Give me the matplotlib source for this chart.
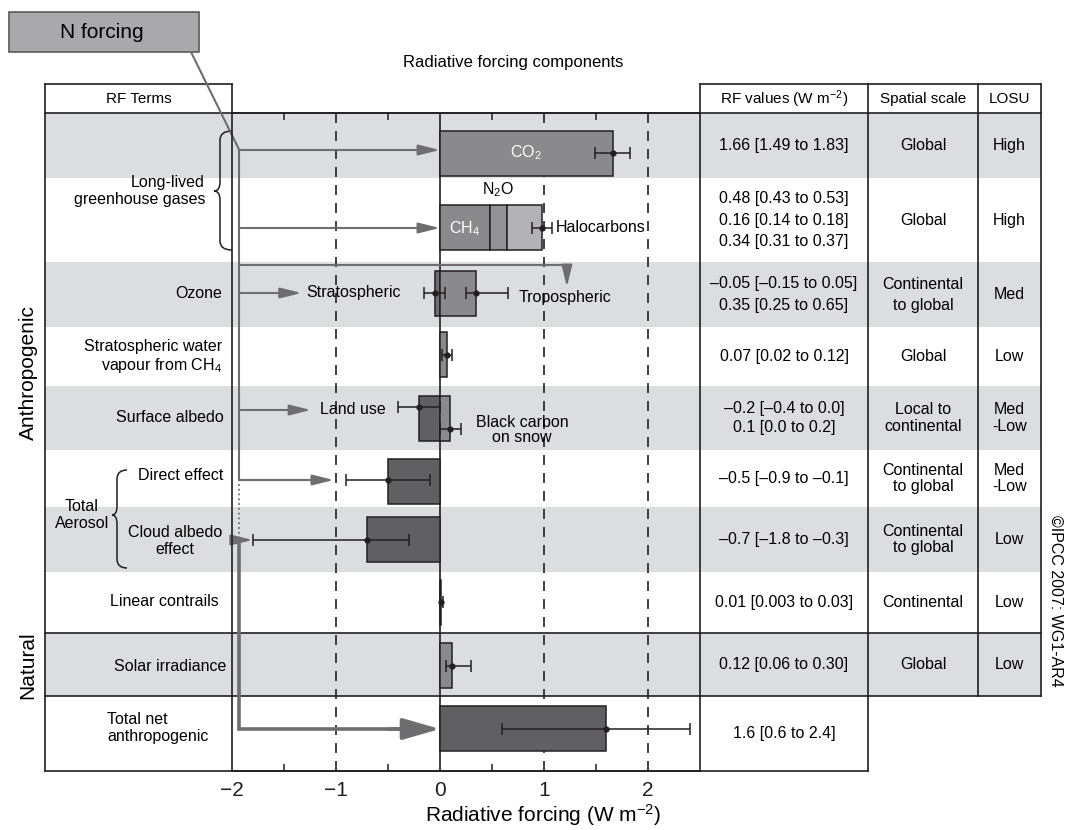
import matplotlib.pyplot as plt
from matplotlib.patches import Rectangle, ConnectionPatch, PathPatch
from matplotlib.path import Path

plt.rcParams['font.family'] = ['Liberation Sans', 'DejaVu Sans']
plt.rcParams['mathtext.fontset'] = 'custom'
plt.rcParams['mathtext.rm'] = 'Liberation Sans'
plt.rcParams['mathtext.it'] = 'Liberation Sans:italic'
plt.rcParams['mathtext.bf'] = 'Liberation Sans:bold'

# forcing components: best estimate and uncertainty range (W m-2)
co2 = 1.66
co2_rng = [1.49, 1.83]
ghg_vals = [0.48, 0.16, 0.34]          # CH4, N2O, halocarbons
ghg_low = [0.43, 0.14, 0.31]
ghg_high = [0.53, 0.18, 0.37]
ozone_vals = [-0.05, 0.35]             # stratospheric, tropospheric
ozone_low = [-0.15, 0.25]
ozone_high = [0.05, 0.65]
h2o_strat = 0.07
h2o_rng = [0.02, 0.12]
albedo_vals = [-0.2, 0.1]              # land use, black carbon on snow
albedo_low = [-0.4, 0.0]
albedo_high = [0.0, 0.2]
aer_direct = -0.5
aer_direct_rng = [-0.9, -0.1]
aer_cloud = -0.7
aer_cloud_rng = [-1.8, -0.3]
contrails = 0.01
contrails_rng = [0.003, 0.03]
solar = 0.12
solar_rng = [0.06, 0.30]
total_net = 1.6
total_rng = [0.6, 2.4]

rf_text = ["1.66 [1.49 to 1.83]",
           "0.48 [0.43 to 0.53]\n0.16 [0.14 to 0.18]\n0.34 [0.31 to 0.37]",
           "\u20130.05 [\u20130.15 to 0.05]\n0.35 [0.25 to 0.65]",
           "0.07 [0.02 to 0.12]",
           "\u20130.2 [\u20130.4 to 0.0]\n0.1 [0.0 to 0.2]",
           "\u20130.5 [\u20130.9 to \u20130.1]",
           "\u20130.7 [\u20131.8 to \u20130.3]",
           "0.01 [0.003 to 0.03]",
           "0.12 [0.06 to 0.30]",
           "1.6 [0.6 to 2.4]"]
spatial = ["Global", "Global", "Continental\nto global", "Global",
           "Local to\ncontinental", "Continental\nto global",
           "Continental\nto global", "Continental", "Global", ""]
losu = ["High", "High", "Med", "Low", "Med\n-Low", "Med\n-Low",
        "Low", "Low", "Low", ""]

# page layout in pixels (y grows downward)
W, H = 1068, 830
LEFT, PLOT_L, PLOT_R, RIGHT = 45, 232, 700, 1041
COL1, COL2 = 868, 978
HEAD, TOP, BOTTOM = 84, 113, 771
row_edges = [113, 178, 262, 327, 386, 450, 507, 572, 633, 696, 771]
shaded = [0, 2, 4, 6, 8]
bar_y = [153.5, 227.5, 294, 355, 419, 481.5, 539.5, 602.5, 665.5, 728.5]
BAR_H = 45

DARK = '#606062'
MID = '#8a8a8c'
N2O_C = '#939395'
LIGHT = '#b3b3b5'
STRAT_C = '#707072'
SHADE = '#dcdddf'
ARROW = '#6e6e70'
INK = '#231f20'

fig = plt.figure(figsize=(W / 100, H / 100), dpi=100)
bg = fig.add_axes([0, 0, 1, 1], zorder=0)
bg.set_xlim(0, W)
bg.set_ylim(H, 0)
bg.axis('off')

ax = fig.add_axes([PLOT_L / W, (H - BOTTOM) / H, (PLOT_R - PLOT_L) / W,
                   (BOTTOM - TOP) / H], zorder=1)
ax.patch.set_visible(False)
ax.set_xlim(-2, 2.5)
ax.set_ylim(BOTTOM, TOP)

# shaded rows
for i in shaded:
    bg.add_patch(Rectangle((LEFT, row_edges[i]), RIGHT - LEFT,
                           row_edges[i + 1] - row_edges[i],
                           fc=SHADE, ec='none', zorder=0))


def hline(y, x0, x1):
    bg.plot([x0, x1], [y, y], color=INK, lw=1.2, solid_capstyle='projecting')


def vline(x, y0, y1):
    bg.plot([x, x], [y0, y1], color=INK, lw=1.2, solid_capstyle='projecting')


# table frame
hline(HEAD, LEFT, PLOT_L)
hline(HEAD, PLOT_R, RIGHT)
hline(TOP, LEFT, RIGHT)
hline(row_edges[8], LEFT, RIGHT)
hline(row_edges[9], LEFT, RIGHT)
hline(BOTTOM, LEFT, COL1)
vline(LEFT, HEAD, BOTTOM)
vline(PLOT_L, HEAD, TOP)
vline(PLOT_R, HEAD, TOP)
vline(COL1, HEAD, BOTTOM)
vline(COL2, HEAD, row_edges[9])
vline(RIGHT, HEAD, row_edges[9])

fs = 11.5
bg.text((LEFT + PLOT_L) / 2, 99, "RF Terms", ha='center', va='center', fontsize=11)
bg.text((PLOT_R + COL1) / 2, 99, "RF values (W m$^{-2}$)", ha='center', va='center', fontsize=11)
bg.text((COL1 + COL2) / 2, 99, "Spatial scale", ha='center', va='center', fontsize=11)
bg.text((COL2 + RIGHT) / 2, 99, "LOSU", ha='center', va='center', fontsize=11)
bg.text(513, 62, "Radiative forcing components", ha='center', va='center', fontsize=12)

for i in range(10):
    yc = (row_edges[i] + row_edges[i + 1]) / 2
    ls_rf = 1.55 if i in (1, 2) else 1.4
    ls_sp = 1.5 if i == 2 else 1.1
    bg.text((PLOT_R + COL1) / 2, yc, rf_text[i], ha='center', va='center',
            fontsize=fs, linespacing=ls_rf)
    bg.text((COL1 + COL2) / 2, yc, spatial[i], ha='center', va='center',
            fontsize=fs, linespacing=ls_sp)
    bg.text((COL2 + RIGHT) / 2, yc, losu[i], ha='center', va='center',
            fontsize=fs, linespacing=1.1)

# term labels
bg.text(205, 191, "Long-lived\ngreenhouse gases", ha='right', va='center', fontsize=fs)
bg.text(222, 293, "Ozone", ha='right', va='center', fontsize=fs)
bg.text(222, 357, "Stratospheric water\nvapour from CH$_4$", ha='right', va='center', fontsize=fs)
bg.text(224, 417, "Surface albedo", ha='right', va='center', fontsize=fs)
bg.text(223, 475, "Direct effect", ha='right', va='center', fontsize=fs)
bg.text(222, 541, "Cloud albedo\neffect", ha='right', va='center', multialignment='center', fontsize=fs)
bg.text(82, 515, "Total\nAerosol", ha='center', va='center', fontsize=fs)
bg.text(219, 601, "Linear contrails", ha='right', va='center', fontsize=fs)
bg.text(226, 666, "Solar irradiance", ha='right', va='center', fontsize=fs)
bg.text(107, 728, "Total net\nanthropogenic", ha='left', va='center', fontsize=fs)
bg.text(28, 373, "Anthropogenic", rotation=90, ha='center', va='center', fontsize=15)
bg.text(28, 665, "Natural", rotation=90, ha='center', va='center', fontsize=15)
bg.text(1056, 601, "\u00a9IPCC 2007: WG1-AR4", rotation=-90, ha='center', va='center', fontsize=11.5)
bg.text(543, 815, "Radiative forcing (W m$^{-2}$)", ha='center', va='center', fontsize=15)


def brace(x_end, x_spine, x_tip, y0, y1, ymid):
    r = 9
    verts = [(x_end, y0), (x_spine, y0), (x_spine, y0 + r),
             (x_spine, ymid - r), (x_spine, ymid), (x_tip, ymid),
             (x_spine, ymid), (x_spine, ymid + r),
             (x_spine, y1 - r), (x_spine, y1), (x_end, y1)]
    codes = [Path.MOVETO, Path.CURVE3, Path.CURVE3, Path.LINETO,
             Path.CURVE3, Path.CURVE3, Path.CURVE3, Path.CURVE3,
             Path.LINETO, Path.CURVE3, Path.CURVE3]
    bg.add_patch(PathPatch(Path(verts, codes), fc='none', ec=INK, lw=1.1))


brace(232, 220, 214, 131, 250, 191)
brace(127, 117, 112, 470, 568, 515)

# N forcing box
bg.add_patch(Rectangle((9, 12), 190, 40, fc='#a9a9ab', ec='#5a5a5c', lw=1.2))
bg.text(102, 32, "N forcing", ha='center', va='center', fontsize=15)

# grid lines and axes
ax.axvline(0, color=INK, lw=1.2, zorder=2)
for xv in (-1, 1, 2):
    ax.axvline(xv, color=INK, lw=1.2, ls=(0, (6, 4.8)), zorder=1)
for s in ax.spines.values():
    s.set_color(INK)
    s.set_linewidth(1.2)
ax.set_yticks([])
ax.set_xticks([-2, -1, 0, 1, 2])
ax.set_xticklabels(["\u22122", "\u22121", "0", "1", "2"], fontsize=15)
ax.set_xticks([-1.5, -0.5, 0.5, 1.5], minor=True)
ax.tick_params(axis='x', which='major', length=0, pad=7, colors=INK)
ax.tick_params(axis='x', which='minor', direction='in', length=5, width=1.1,
               top=True, bottom=True, colors=INK)

bar_kw = dict(height=BAR_H, edgecolor=INK, linewidth=1.1, zorder=3)
err_kw = dict(fmt='o', color=INK, ms=3.5, elinewidth=1.1, capsize=4.3,
              capthick=1.1, zorder=4)


def err(x, lo, hi, y):
    ax.errorbar(x, y, xerr=[[x - lo], [hi - x]], **err_kw)


# CO2
ax.barh(bar_y[0], co2, color=MID, **bar_kw)
err(co2, co2_rng[0], co2_rng[1], 153)
ax.text(co2 / 2, 153, "CO$_2$", color='white', ha='center', va='center', fontsize=fs, zorder=5)

# other long-lived gases, stacked
left = 0
for v, c in zip(ghg_vals, [MID, N2O_C, LIGHT]):
    ax.barh(bar_y[1], v, left=left, color=c, **bar_kw)
    left += v
err(sum(ghg_vals), sum(ghg_low), sum(ghg_high), 228)
ax.text(ghg_vals[0] / 2, 229, "CH$_4$", color='white', ha='center', va='center', fontsize=fs, zorder=5)
ax.text(ghg_vals[0] + ghg_vals[1] / 2, 190, "N$_2$O", ha='center', va='center', fontsize=fs)
ax.text(sum(ghg_high) + 0.03, 228, "Halocarbons", ha='left', va='center', fontsize=fs)

# ozone
ax.barh(bar_y[2], ozone_vals[0], color=STRAT_C, **bar_kw)
ax.barh(bar_y[2], ozone_vals[1], color=MID, **bar_kw)
for v, lo, hi in zip(ozone_vals, ozone_low, ozone_high):
    err(v, lo, hi, 293)
ax.text(ozone_high[1] + 0.11, 298, "Tropospheric", ha='left', va='center', fontsize=fs)
ax.text(-1.29, 293, "Stratospheric", ha='left', va='center', fontsize=fs)

# stratospheric water vapour
ax.barh(bar_y[3], h2o_strat, color=MID, **bar_kw)
err(h2o_strat, h2o_rng[0], h2o_rng[1], 355)

# surface albedo
ax.barh(bar_y[4], albedo_vals[0], color=DARK, **bar_kw)
ax.barh(bar_y[4], albedo_vals[1], color=MID, **bar_kw)
err(albedo_vals[0], albedo_low[0], albedo_high[0], 407)
err(albedo_vals[1], albedo_low[1], albedo_high[1], 429)
ax.text(-1.15, 409, "Land use", ha='left', va='center', fontsize=fs)
ax.text(0.79, 430, "Black carbon\non snow", ha='center', va='center', fontsize=fs, linespacing=1.05)

# aerosols
ax.barh(bar_y[5], aer_direct, color=DARK, **bar_kw)
err(aer_direct, aer_direct_rng[0], aer_direct_rng[1], 480)
ax.barh(bar_y[6], aer_cloud, color=DARK, **bar_kw)
err(aer_cloud, aer_cloud_rng[0], aer_cloud_rng[1], 540)

# contrails, solar, total
ax.barh(bar_y[7], contrails, color=MID, **bar_kw)
err(contrails, contrails_rng[0], contrails_rng[1], 602)
ax.barh(bar_y[8], solar, color=MID, **bar_kw)
err(solar, solar_rng[0], solar_rng[1], 666)
ax.barh(bar_y[9], total_net, color=DARK, **bar_kw)
err(total_net, total_rng[0], total_rng[1], 729)

# N forcing arrows
TR = -1.93
thin = dict(arrowstyle='-|>,head_length=1.3,head_width=0.32', color=ARROW,
            lw=1.5, shrinkA=0, shrinkB=0, mutation_scale=10)
con = ConnectionPatch(xyA=(191, 52), coordsA=bg.transData,
                      xyB=(TR, 150), coordsB=ax.transData,
                      color=ARROW, lw=1.5)
fig.add_artist(con)
ax.plot([TR, TR], [150, 480], color=ARROW, lw=1.5, clip_on=False, zorder=2)
ax.plot([TR, TR], [484, 538], color=ARROW, lw=1.3, ls=':', clip_on=False, zorder=2)
ax.plot([TR, 1.22], [265, 265], color=ARROW, lw=1.5, clip_on=False, zorder=2)
for y, xe in [(150, 0), (228, 0), (293, -1.33), (410, -1.24), (480, -1.02),
              (540, aer_cloud_rng[0])]:
    ax.annotate('', xy=(xe, y), xytext=(TR, y), arrowprops=thin,
                annotation_clip=False, zorder=2)
ax.annotate('', xy=(1.22, 287), xytext=(1.22, 265), arrowprops=thin,
            annotation_clip=False, zorder=2)
ax.plot([TR, TR, -0.3], [541, 729, 729], color=ARROW, lw=2.6,
        solid_joinstyle='miter', clip_on=False, zorder=2)
ax.annotate('', xy=(0, 729), xytext=(-0.5, 729),
            arrowprops=dict(arrowstyle='-|>,head_length=2.3,head_width=0.66',
                            color=ARROW, lw=2.6, shrinkA=0, shrinkB=0,
                            mutation_scale=10),
            annotation_clip=False, zorder=2)

fig.savefig('out.png', dpi=100)
